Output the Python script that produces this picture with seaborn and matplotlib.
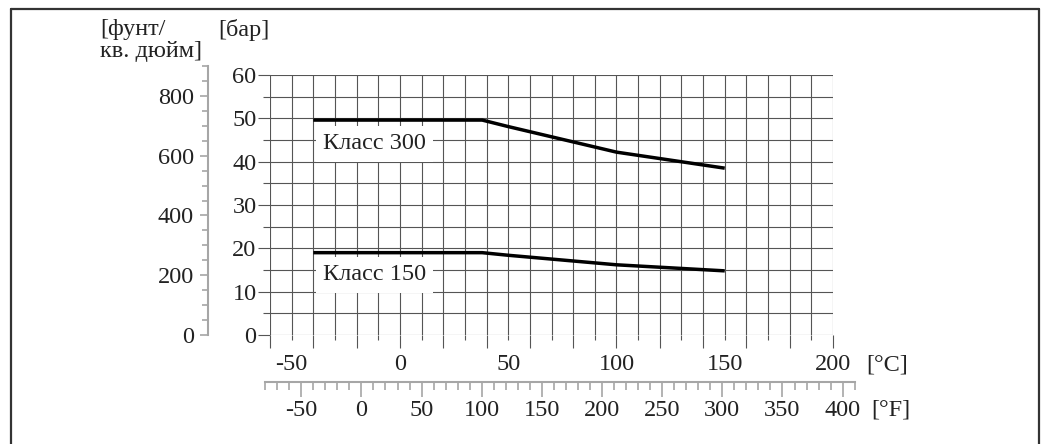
import numpy as np
import seaborn as sns
import matplotlib.pyplot as plt
from matplotlib.lines import Line2D

# ----------------------------------------------------------
# data
# ----------------------------------------------------------
temp_c = [-40, 38, 50, 100, 150]
class_300_bar = [49.6, 49.6, 48.1, 42.2, 38.5]
class_150_bar = [19.0, 19.0, 18.4, 16.2, 14.8]
class_names = ["Класс 300", "Класс 150"]

c_labels = [-50, 0, 50, 100, 150, 200]
f_labels = [-50, 0, 50, 100, 150, 200, 250, 300, 350, 400]
bar_labels = [0, 10, 20, 30, 40, 50, 60]
psi_labels = [0, 200, 400, 600, 800]

PSI_PER_BAR = 14.5038

# ----------------------------------------------------------
# layout (pixels of a 1046x444 picture)
# ----------------------------------------------------------
W, H, DPI = 1046, 444, 100
X0, X1 = 270, 833      # -60 .. 200 degC
Y_TOP, Y_BOT = 75, 335  # 60 .. 0 bar
C_MIN, C_MAX = -60, 200
PX_PER_C = (X1 - X0) / (C_MAX - C_MIN)
PX_PER_BAR = (Y_BOT - Y_TOP) / 60

GRID = "#555555"
GREY = "#a6a6a6"
TXT = "#222222"
FS = 17.5


def pt(px):
    return px * 72 / DPI


def box(left, top, right, bottom):
    return [left / W, 1 - bottom / H, (right - left) / W, (bottom - top) / H]


def c_to_px(c):
    return X0 + (c - C_MIN) * PX_PER_C


def f_to_px(f):
    return c_to_px((f - 32) * 5 / 9)


sns.set_style("white")
plt.rcParams["font.family"] = ["Liberation Serif", "DejaVu Serif"]
plt.rcParams["axes.unicode_minus"] = False
plt.rcParams["text.color"] = TXT

fig = plt.figure(figsize=(W / DPI, H / DPI), dpi=DPI)

# ── main grid (degC / bar) ───────────────────────────────
ax = fig.add_axes(box(X0, Y_TOP, X1, Y_BOT))
ax.set_xlim(C_MIN, C_MAX)
ax.set_ylim(0, 60)
for s in ax.spines.values():
    s.set_visible(False)

ax.set_xticks(np.arange(-60, 201, 20))
ax.set_xticks(np.arange(-50, 200, 20), minor=True)
ax.set_yticks(bar_labels)
ax.set_yticks(np.arange(5, 60, 10), minor=True)
ax.set_xticklabels([])
ax.set_yticklabels([str(v) for v in bar_labels], fontsize=FS, color=TXT)
ax.tick_params(axis="x", which="major", bottom=True, direction="out", length=pt(13), width=0.8, color=GRID)
ax.tick_params(axis="x", which="minor", bottom=True, direction="out", length=pt(5), width=0.8, color=GRID)
ax.tick_params(axis="y", which="major", left=True, direction="out", length=pt(12), width=0.8, color=GRID, pad=1)
ax.tick_params(axis="y", which="minor", left=True, direction="out", length=pt(7), width=0.8, color=GRID)
ax.grid(True, which="both", color=GRID, lw=0.8)
ax.set_axisbelow(True)

for v in c_labels:
    ax.text(v, -30 / (Y_BOT - Y_TOP), str(v), transform=ax.get_xaxis_transform(),
            ha="center", va="center", fontsize=FS, color=TXT)

sns.lineplot(x=temp_c, y=class_300_bar, ax=ax, color="black", lw=2.5,
             solid_capstyle="butt", zorder=3)
sns.lineplot(x=temp_c, y=class_150_bar, ax=ax, color="black", lw=2.5,
             solid_capstyle="butt", zorder=3)

for name, yv in zip(class_names, [44.1, 13.9]):
    ax.text(-35.5, yv, name, ha="left", va="center", fontsize=FS, color=TXT, zorder=4,
            bbox=dict(boxstyle="square,pad=0.3", fc="white", ec="none"))

# ── psi scale ────────────────────────────────────────────
psi_top = Y_BOT - 900 / PSI_PER_BAR * PX_PER_BAR
axp = fig.add_axes(box(208, psi_top, 214, Y_BOT))
axp.set_ylim(0, 900)
axp.set_xticks([])
for k, s in axp.spines.items():
    s.set_visible(k == "left")
axp.spines["left"].set_color(GREY)
axp.spines["left"].set_linewidth(1.5)
axp.set_yticks(psi_labels)
axp.set_yticks(np.arange(0, 901, 50), minor=True)
axp.set_yticklabels([str(v) for v in psi_labels], fontsize=FS, color=TXT)
axp.tick_params(axis="y", which="major", left=True, direction="out", length=pt(8), width=1.2, color=GREY, pad=pt(6))
axp.tick_params(axis="y", which="minor", left=True, direction="out", length=pt(6), width=1.2, color=GREY)
axp.patch.set_alpha(0)

# ── degF scale ───────────────────────────────────────────
F_Y = 382
axf = fig.add_axes(box(f_to_px(-80), F_Y - 6, f_to_px(410), F_Y))
axf.set_xlim(-80, 410)
axf.set_yticks([])
for k, s in axf.spines.items():
    s.set_visible(k == "bottom")
axf.spines["bottom"].set_color(GREY)
axf.spines["bottom"].set_linewidth(1.5)
axf.set_xticks(f_labels)
axf.set_xticks(np.arange(-80, 411, 10), minor=True)
axf.set_xticklabels([str(v) for v in f_labels], fontsize=FS, color=TXT)
axf.tick_params(axis="x", which="major", bottom=True, direction="out", length=pt(15), width=1.2, color=GREY, pad=pt(3))
axf.tick_params(axis="x", which="minor", bottom=True, direction="out", length=pt(8), width=1.2, color=GREY)
axf.patch.set_alpha(0)

# ── unit labels ──────────────────────────────────────────
fig.text(100 / W, 1 - 30 / H, "[фунт/", ha="left", va="center", fontsize=FS)
fig.text(100 / W, 1 - 52 / H, "кв. дюйм]", ha="left", va="center", fontsize=FS)
fig.text(218 / W, 1 - 30 / H, "[бар]", ha="left", va="center", fontsize=FS)
fig.text(866 / W, 1 - 365 / H, "[°C]", ha="left", va="center", fontsize=FS)
fig.text(871 / W, 1 - 410 / H, "[°F]", ha="left", va="center", fontsize=FS)

# ── frame ────────────────────────────────────────────────
for xs, ys in [([11, 11], [444, 9]), ([11, 1039], [9, 9]), ([1039, 1039], [9, 444])]:
    fig.add_artist(Line2D([x / W for x in xs], [1 - y / H for y in ys],
                          color="#333333", lw=1.6, transform=fig.transFigure))

fig.savefig("out.png", dpi=DPI)
